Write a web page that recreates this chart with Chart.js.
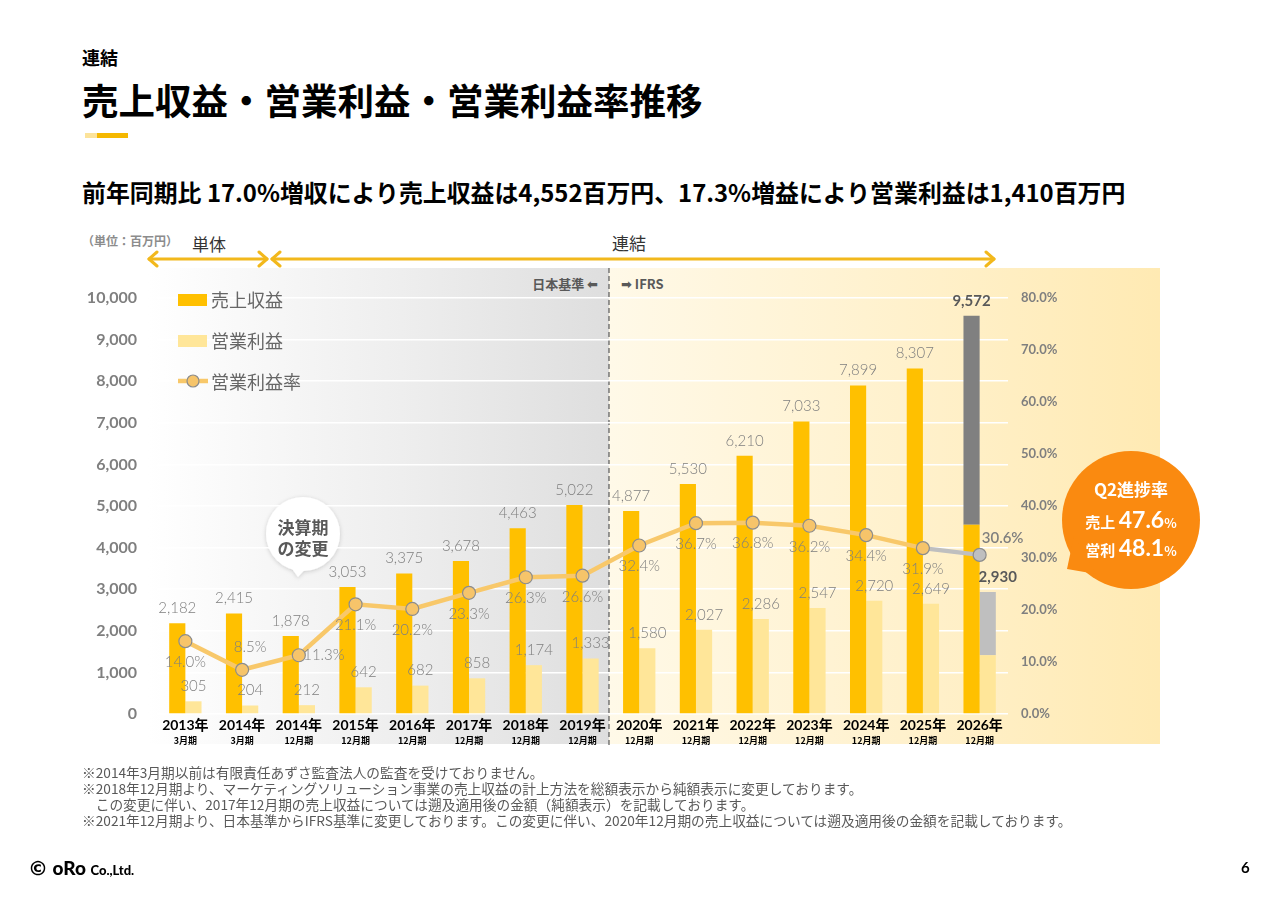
<!DOCTYPE html>
<html lang="ja">
<head>
<meta charset="utf-8">
<script src="https://cdn.jsdelivr.net/npm/chart.js@4.4.1/dist/chart.umd.min.js"></script>
<style>
  html, body { margin: 0; padding: 0; background: #fff; }
  body { width: 1280px; height: 904px; position: relative; overflow: hidden;
         font-family: "Noto Sans CJK JP", sans-serif; color: #000; }
  .t { position: absolute; white-space: nowrap; line-height: 1; }
  .b { font-weight: bold; }
  #panelJp { position: absolute; left: 148px; top: 268px; width: 461px; height: 476px;
             background: linear-gradient(to right, #ffffff 0%, #eeeeee 55%, #dedede 100%); }
  #panelIfrs { position: absolute; left: 609px; top: 268px; width: 551px; height: 476px;
               background: linear-gradient(to right, #fff9e8 0%, #fff0c9 60%, #ffeab3 100%); }
  #deco { position: absolute; left: 0; top: 0; }
  #chart { position: absolute; left: 0; top: 0; }
  .notes { position: absolute; left: 82px; top: 764px; font-size: 13.7px; line-height: 16px;
           color: #595959; white-space: nowrap; }
</style>
</head>
<body>

<div class="t b" style="left:82px;top:48px;font-size:18px;">連結</div>
<div class="t b" style="left:82px;top:82px;font-size:36.5px;">売上収益・営業利益・営業利益率推移</div>
<div style="position:absolute;left:85px;top:133px;width:12px;height:5px;background:#fce39a;"></div>
<div style="position:absolute;left:97px;top:133px;width:31px;height:5px;background:#f5b800;"></div>
<div class="t b" style="left:82px;top:180px;font-size:23.9px;">前年同期比 17.0%増収により売上収益は4,552百万円、17.3%増益により営業利益は1,410百万円</div>

<div class="t b" style="left:82px;top:235px;font-size:12px;color:#8c8c8c;">（単位：百万円）</div>
<div class="t" style="left:192px;top:235px;font-size:17px;color:#333;">単体</div>
<div class="t" style="left:612px;top:234px;font-size:17px;color:#333;">連結</div>

<div id="panelJp"></div>
<div id="panelIfrs"></div>

<svg id="deco" width="1280" height="904">
  <defs>
    <filter id="shadow" x="-30%" y="-30%" width="160%" height="160%">
      <feDropShadow dx="0" dy="1" stdDeviation="2" flood-color="#000" flood-opacity="0.18"/>
    </filter>
  </defs>
  <g stroke="#f2b81c" stroke-width="3" fill="none" stroke-linecap="round" stroke-linejoin="round">
    <line x1="149" y1="259" x2="267" y2="259"/>
    <polyline points="157,252 149,259 157,266"/>
    <polyline points="259,252 267,259 259,266"/>
    <line x1="272" y1="259" x2="994" y2="259"/>
    <polyline points="280,252 272,259 280,266"/>
    <polyline points="986,252 994,259 986,266"/>
  </g>
  <line x1="609" y1="268" x2="609" y2="745" stroke="#595959" stroke-width="1.2" stroke-dasharray="5,3"/>
  <g filter="url(#shadow)" fill="#fff">
    <circle cx="303" cy="534" r="37"/>
    <polygon points="290,566 298,577 308,566"/>
  </g>
  <circle cx="1131" cy="520" r="69" fill="#fa8a10"/>
  <polygon points="1074,536 1067,569 1096,574" fill="#fa8a10"/>
</svg>

<div class="t b" style="right:682px;top:277px;font-size:13px;color:#595959;">日本基準 <span style="font-family:'DejaVu Sans';">⬅</span></div>
<div class="t b" style="left:621px;top:277px;font-size:13px;color:#595959;"><span style="font-family:'DejaVu Sans';">➡</span> IFRS</div>

<canvas id="chart" width="1280" height="904"></canvas>

<!-- legend -->
<div style="position:absolute;left:178px;top:294px;width:29px;height:12px;background:#ffc000;"></div>
<div class="t" style="left:211px;top:290px;font-size:18px;color:#666;">売上収益</div>
<div style="position:absolute;left:178px;top:335px;width:29px;height:12px;background:#ffe699;"></div>
<div class="t" style="left:211px;top:331px;font-size:18px;color:#666;">営業利益</div>
<svg style="position:absolute;left:176px;top:372px;" width="34" height="18">
  <line x1="2" y1="9" x2="32" y2="9" stroke="#f8c86a" stroke-width="4.5"/>
  <circle cx="17" cy="9" r="6" fill="#f6c46a" stroke="#8c8c8c" stroke-width="1.2"/>
</svg>
<div class="t" style="left:211px;top:372px;font-size:18px;color:#666;">営業利益率</div>

<!-- bubbles -->
<div class="t b" style="left:303px;top:516px;font-size:17px;line-height:21px;color:#595959;transform:translateX(-50%);text-align:center;">決算期<br>の変更</div>
<div class="t b" style="left:1131px;top:480px;font-size:17px;color:#fff;transform:translateX(-50%);">Q2進捗率</div>
<div class="t b" style="left:1131px;top:507px;font-size:15px;line-height:24px;color:#fff;transform:translateX(-50%);">売上 <span style="font-family:Lato;font-size:23px;">47.6</span><span style="font-size:13px;">%</span></div>
<div class="t b" style="left:1131px;top:535px;font-size:15px;line-height:24px;color:#fff;transform:translateX(-50%);">営利 <span style="font-family:Lato;font-size:23px;">48.1</span><span style="font-size:13px;">%</span></div>

<div class="notes">※2014年3月期以前は有限責任あずさ監査法人の監査を受けておりません。<br>※2018年12月期より、マーケティングソリューション事業の売上収益の計上方法を総額表示から純額表示に変更しております。<br>　この変更に伴い、2017年12月期の売上収益については遡及適用後の金額（純額表示）を記載しております。<br>※2021年12月期より、日本基準からIFRS基準に変更しております。この変更に伴い、2020年12月期の売上収益については遡及適用後の金額を記載しております。</div>

<div class="t b" style="left:28px;top:857px;font-size:20px;"><span style="font-family:'DejaVu Sans';">©</span> <span style="font-family:Lato;font-weight:900;font-size:19px;">oRo</span> <span style="font-family:Lato;font-size:13px;font-weight:900;">Co.,Ltd.</span></div>
<div class="t b" style="left:1241px;top:860px;font-size:15px;font-family:Lato;">6</div>

<script>
// 決算期
const categories = ['2013年', '2014年', '2014年', '2015年', '2016年', '2017年', '2018年', '2019年',
                    '2020年', '2021年', '2022年', '2023年', '2024年', '2025年', '2026年'];
const periods = ['3月期', '3月期', '12月期', '12月期', '12月期', '12月期', '12月期', '12月期',
                 '12月期', '12月期', '12月期', '12月期', '12月期', '12月期', '12月期'];

// 売上収益（2026年はQ2実績）と通期予想
const revenue = [2182, 2415, 1878, 3053, 3375, 3678, 4463, 5022, 4877, 5530, 6210, 7033, 7899, 8307, 4552];
const revenueForecast = [null, null, null, null, null, null, null, null, null, null, null, null, null, null, 9572];

// 営業利益（2026年はQ2実績）と通期予想
const profit = [305, 204, 212, 642, 682, 858, 1174, 1333, 1580, 2027, 2286, 2547, 2720, 2649, 1410];
const profitForecast = [null, null, null, null, null, null, null, null, null, null, null, null, null, null, 2930];

// 営業利益率（%）
const margin = [14.0, 8.5, 11.3, 21.1, 20.2, 23.3, 26.3, 26.6, 32.4, 36.7, 36.8, 36.2, 34.4, 31.9, 30.6];

const numFont = "Lato, 'Noto Sans CJK JP', sans-serif";
Chart.defaults.font.family = numFont;

const LAST = categories.length - 1;

// 数値ラベルとカテゴリラベル
const labelsPlugin = {
    id: 'labelsPlugin',
    afterDatasetsDraw(chart) {
        const ctx = chart.ctx;
        const x = chart.scales.x, y = chart.scales.y, y1 = chart.scales.y1;
        const revMeta = chart.getDatasetMeta(0);
        const opMeta = chart.getDatasetMeta(2);
        const lineMeta = chart.getDatasetMeta(4);
        ctx.save();
        ctx.textAlign = 'center';
        ctx.textBaseline = 'middle';

        for (let i = 0; i < categories.length; i++) {
            const last = i === LAST;
            // 売上収益
            const rv = last ? revenueForecast[i] : revenue[i];
            ctx.fillStyle = last ? '#595959' : '#7f7f7f';
            ctx.font = (last ? 'bold ' : '300 ') + '15px ' + numFont;
            ctx.fillText(rv.toLocaleString('en-US'), revMeta.data[i].x, y.getPixelForValue(rv) - 15);

            // 営業利益
            const ov = last ? profitForecast[i] : profit[i];
            ctx.fillText(ov.toLocaleString('en-US'), opMeta.data[i].x + (last ? 10 : 0), y.getPixelForValue(ov) - 15);

            // 営業利益率
            const pt = lineMeta.data[i];
            let dx = 0, dy = 21;
            if (i === 1) { dx = 8; dy = -23; }
            if (i === 2) { dx = 25; dy = 0; }
            if (last) { dx = 23; dy = -17; }
            ctx.fillStyle = '#7f7f7f';
            ctx.font = (last ? '600 ' : '300 ') + '15px ' + numFont;
            ctx.fillText(margin[i].toFixed(1) + '%', pt.x + dx, y1.getPixelForValue(margin[i]) + dy);

            // 年・期
            const cx = x.getPixelForValue(i);
            ctx.fillStyle = '#000';
            ctx.font = "bold 14px " + numFont;
            ctx.fillText(categories[i], cx, 725);
            ctx.font = "bold 9px 'Noto Sans CJK JP', sans-serif";
            ctx.fillText(periods[i], cx, 741);
        }
        ctx.restore();
    }
};

new Chart(document.getElementById('chart'), {
    data: {
        labels: categories,
        datasets: [
            {
                type: 'bar',
                label: '売上収益',
                data: revenue,
                backgroundColor: '#ffc000',
                stack: 'rev',
                order: 1
            },
            {
                type: 'bar',
                label: '売上収益（予想）',
                data: revenue.map((v, i) => revenueForecast[i] == null ? null : [v, revenueForecast[i]]),
                backgroundColor: '#808080',
                stack: 'rev',
                order: 1
            },
            {
                type: 'bar',
                label: '営業利益',
                data: profit,
                backgroundColor: '#ffe699',
                stack: 'op',
                order: 1
            },
            {
                type: 'bar',
                label: '営業利益（予想）',
                data: profit.map((v, i) => profitForecast[i] == null ? null : [v, profitForecast[i]]),
                backgroundColor: '#bfbfbf',
                stack: 'op',
                order: 1
            },
            {
                type: 'line',
                label: '営業利益率',
                data: margin,
                yAxisID: 'y1',
                order: 0,
                borderColor: '#f8c86a',
                borderWidth: 4.5,
                segment: {
                    borderColor: (c) => c.p1DataIndex === LAST ? '#bfbfbf' : '#f8c86a'
                },
                pointRadius: 6.5,
                pointBorderWidth: 1.2,
                pointBorderColor: '#8c8c8c',
                pointBackgroundColor: (c) => c.dataIndex === LAST ? '#bfbfbf' : '#f6c46a',
                tension: 0
            }
        ]
    },
    options: {
        responsive: false,
        animation: false,
        layout: { padding: { left: 80, top: 298, right: 212, bottom: 190 } },
        plugins: {
            legend: { display: false },
            tooltip: { enabled: false }
        },
        datasets: {
            bar: { categoryPercentage: 0.57, barPercentage: 1.0 }
        },
        scales: {
            x: { display: false, stacked: true },
            y: {
                stacked: false,
                min: 0,
                max: 10000,
                ticks: {
                    stepSize: 1000,
                    padding: 20,
                    color: '#7f7f7f',
                    font: { size: 16, weight: 'bold' },
                    callback: (v) => v.toLocaleString('en-US')
                },
                grid: { color: '#ffffff', lineWidth: 1.5, drawTicks: false },
                border: { display: false },
                afterFit(s) { s.width = 77; }
            },
            y1: {
                position: 'right',
                min: 0,
                max: 80,
                ticks: {
                    stepSize: 10,
                    padding: 13,
                    color: '#7f7f7f',
                    font: { size: 13, weight: 'bold' },
                    callback: (v) => v.toFixed(1) + '%'
                },
                grid: { display: false, drawTicks: false },
                border: { display: false },
                afterFit(s) { s.width = 60; }
            }
        }
    },
    plugins: [labelsPlugin]
});
</script>
</body>
</html>
